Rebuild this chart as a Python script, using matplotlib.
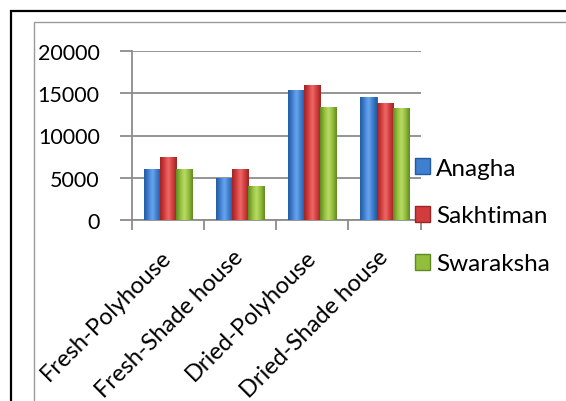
import matplotlib
matplotlib.use("Agg")
import matplotlib.pyplot as plt
import numpy as np
from matplotlib.patches import Rectangle
from matplotlib.colors import LinearSegmentedColormap

categories = ["Fresh-Polyhouse", "Fresh-Shade house", "Dried-Polyhouse", "Dried-Shade house"]
series_names = ["Anagha", "Sakhtiman", "Swaraksha"]
anagha = [6000, 5000, 15400, 14600]
sakhtiman = [7500, 6000, 16000, 13900]
swaraksha = [6000, 4000, 13400, 13300]
yticks = [0, 5000, 10000, 15000, 20000]

base_colors = ["#3f7fcf", "#d23c3c", "#93bd3c"]
light_colors = ["#6aa6ec", "#ee6a6a", "#b9dc66"]
dark_colors = ["#245aa0", "#9c2424", "#5f8a22"]

plt.rcParams['font.family'] = ['Lato', 'DejaVu Sans']
W, H = 566, 402
fig = plt.figure(figsize=(W / 100, H / 100), dpi=100)

# frames
fig.patches.append(Rectangle((11 / W, -0.1), 1.2, 1 - 12 / H + 0.1, transform=fig.transFigure,
                             fill=False, edgecolor="black", linewidth=1.6, zorder=0))
fig.patches.append(Rectangle((34 / W, -0.1), 1.2, 1 - 23 / H + 0.1, transform=fig.transFigure,
                             fill=False, edgecolor="#9a9a9a", linewidth=1.0, zorder=0))

ax = fig.add_axes([131.7 / W, 181.3 / H, 289 / W, 168.4 / H])
ax.set_facecolor("none")

x = np.arange(len(categories))
bw = 1 / 4.5
all_series = [anagha, sakhtiman, swaraksha]

for i, vals in enumerate(all_series):
    bars = ax.bar(x + (i - 1) * bw, vals, width=bw, color=base_colors[i],
                  edgecolor=dark_colors[i], linewidth=0.6, zorder=3, label=series_names[i])
    cmap = LinearSegmentedColormap.from_list(
        "g%d" % i, [dark_colors[i], base_colors[i], light_colors[i], base_colors[i], dark_colors[i]])
    grad = np.linspace(0, 1, 64).reshape(1, -1)
    for b in bars:
        x0, y0 = b.get_x(), b.get_y()
        w, h = b.get_width(), b.get_height()
        im = ax.imshow(grad, cmap=cmap, extent=(x0, x0 + w, y0, y0 + h), aspect="auto",
                       zorder=3.5, interpolation="bicubic")
        im.set_clip_path(b)

ax.set_xlim(-0.5, len(categories) - 0.5)
ax.set_ylim(0, 20000)
ax.set_yticks(yticks)
ax.set_yticklabels([str(v) for v in yticks], fontsize=15.5)
ax.grid(axis="y", color="#8c8c8c", linewidth=1.3, zorder=1)
ax.set_axisbelow(True)

ax.set_xticks(x)
ax.set_xticklabels(categories, rotation=45, ha="right", va="center", rotation_mode="anchor", fontsize=17)
ax.tick_params(axis="x", length=0, pad=24)
ax.set_xticks(np.arange(len(categories) + 1) - 0.5, minor=True)
ax.tick_params(axis="x", which="minor", length=7, width=1.3, color="#8c8c8c", direction="out")
ax.tick_params(axis="y", length=9, width=1.3, color="#8c8c8c", pad=14)

for s in ["top", "right"]:
    ax.spines[s].set_visible(False)
for s in ["left", "bottom"]:
    ax.spines[s].set_color("#8c8c8c")
    ax.spines[s].set_linewidth(1.3)

handles = [Rectangle((0, 0), 1, 1, facecolor=base_colors[i], edgecolor=dark_colors[i]) for i in range(3)]
fig.legend(handles, series_names, loc="center left", bbox_to_anchor=(415 / W, 1 - 217 / H),
           frameon=False, fontsize=17.5, handlelength=0.62, handleheight=0.62,
           handletextpad=0.25, labelspacing=1.1, borderpad=0, borderaxespad=0)

fig.savefig("out.png", dpi=100)
